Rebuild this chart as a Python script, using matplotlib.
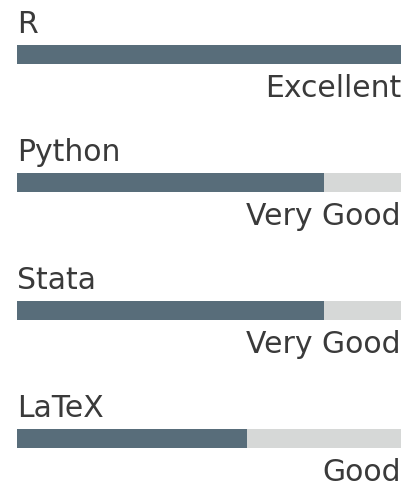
import matplotlib
matplotlib.use('Agg')
import matplotlib.pyplot as plt

skills = ['R', 'Python', 'Stata', 'LaTeX']
levels = ['Excellent', 'Very Good', 'Very Good', 'Good']
scores = [1.0, 0.8, 0.8, 0.6]

dark = '#586d7a'; light = '#d6d8d7'; txt = '#3a3a3a'
W, H = 417, 485
fig = plt.figure(figsize=(W / 100, H / 100), dpi=100)
# x: 0..1 over bar track (px 17..401); y: pixel rows, top down
ax = fig.add_axes([17 / W, 0, 384 / W, 1])
ax.set_xlim(0, 1); ax.set_ylim(H, 0); ax.axis('off')

step, top0, bh = 128, 46, 19
for i, (s, lv, v) in enumerate(zip(skills, levels, scores)):
    yc = top0 + i * step + bh / 2
    ax.barh(yc, 1.0, height=bh, color=light, lw=0)
    ax.barh(yc, v, height=bh, color=dark, lw=0)
    ax.text(0, yc - bh / 2 - 13, s, ha='left', va='baseline', fontsize=21.5,
            color=txt, family='DejaVu Sans')
    ax.text(1, yc + bh / 2 + 32, lv, ha='right', va='baseline', fontsize=21.5,
            color=txt, family='DejaVu Sans')

fig.savefig('out.png', dpi=100)
